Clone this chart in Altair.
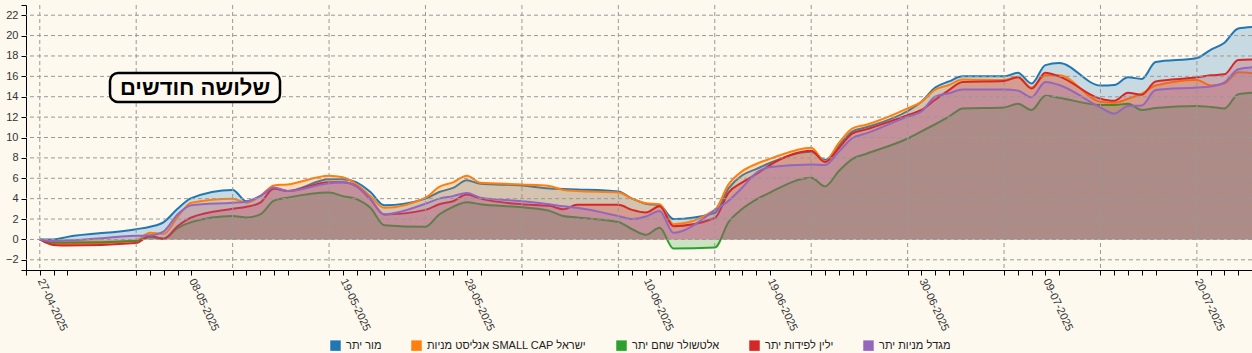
import json
import altair as alt
import pandas as pd

# ---------------- data ----------------
dates = [
    "2025-04-27", "2025-04-28", "2025-04-29", "2025-05-04", "2025-05-05", "2025-05-06",
    "2025-05-07", "2025-05-08", "2025-05-11", "2025-05-12", "2025-05-13", "2025-05-14",
    "2025-05-15", "2025-05-18", "2025-05-19", "2025-05-20", "2025-05-21", "2025-05-22",
    "2025-05-25", "2025-05-26", "2025-05-27", "2025-05-28", "2025-05-29", "2025-06-01",
    "2025-06-03", "2025-06-04", "2025-06-05", "2025-06-08", "2025-06-09", "2025-06-10",
    "2025-06-11", "2025-06-12", "2025-06-15", "2025-06-16", "2025-06-17", "2025-06-18",
    "2025-06-19", "2025-06-22", "2025-06-23", "2025-06-24", "2025-06-25", "2025-06-26",
    "2025-06-29", "2025-06-30", "2025-07-01", "2025-07-02", "2025-07-03", "2025-07-06",
    "2025-07-07", "2025-07-08", "2025-07-09", "2025-07-10", "2025-07-13", "2025-07-14",
    "2025-07-15", "2025-07-16", "2025-07-17", "2025-07-20", "2025-07-21", "2025-07-22",
    "2025-07-23", "2025-07-24",
]

series_names = [
    "מור יתר",
    "אנליסט מניות SMALL CAP ישראל",
    "אלטשולר שחם יתר",
    "ילין לפידות יתר",
    "מגדל מניות יתר",
]
series_colors = ["#1f77b4", "#ff7f0e", "#2ca02c", "#d62728", "#9467bd"]

mor = [0, 0.0, 0.25, 1.0, 1.25, 1.7, 3.0, 4.05,
       4.85, 3.75, 4.25, 5.0, 4.75, 5.9, 5.9, 5.6, 4.65, 3.35,
       4.0, 4.65, 5.05, 5.8, 5.45, 5.3, 5.0, 4.95, 4.9,
       4.7, 4.0, 3.5, 3.35, 2.0, 2.6, 5.0, 6.3, 6.9, 7.5,
       8.6, 7.8, 9.2, 10.6, 11.0, 12.6, 13.5, 14.9, 15.5, 16.0,
       16.0, 16.35, 15.3, 17.1, 17.3, 15.1, 15.15, 15.9, 15.75, 17.4,
       17.8, 18.6, 19.3, 20.7, 20.85]

analyst = [0, -0.4, -0.45, -0.1, 0.65, 0.55, 2.2, 3.6,
           4.0, 3.6, 4.25, 5.3, 5.4, 6.25, 6.1, 5.4, 4.25, 3.1,
           4.1, 5.15, 5.6, 6.25, 5.55, 5.4, 5.25, 4.85, 4.75,
           4.6, 4.0, 3.55, 3.45, 1.5, 2.9, 5.4, 6.7, 7.4, 7.9,
           9.0, 7.65, 9.45, 10.9, 11.25, 12.85, 13.5, 14.7, 15.15, 15.7,
           15.65, 15.95, 14.9, 16.1, 16.1, 13.5, 13.4, 13.8, 14.3, 15.1,
           15.65, 15.1, 15.3, 16.4, 16.3]

altshuler = [0, -0.3, -0.3, -0.15, 0.25, 0.1, 1.1, 1.7,
             2.3, 2.15, 2.45, 3.8, 4.1, 4.6, 4.25, 3.95, 3.1, 1.4,
             1.25, 2.45, 3.2, 3.65, 3.45, 3.15, 2.8, 2.3, 2.15,
             1.7, 1.0, 0.45, 1.15, -0.9, -0.8, 1.7, 3.0, 3.9, 4.6,
             6.05, 5.2, 6.7, 7.9, 8.4, 9.9, 10.6, 11.3, 12.05, 12.85,
             12.95, 13.3, 12.7, 14.1, 13.9, 13.2, 13.2, 13.3, 12.7, 12.9,
             13.1, 13.0, 12.85, 14.25, 14.4]

yelin = [0, -0.55, -0.6, -0.35, 0.35, 0.05, 1.3, 2.15,
         3.0, 3.2, 3.6, 5.0, 4.75, 5.6, 5.6, 5.2, 3.95, 2.45,
         2.9, 3.45, 3.75, 4.4, 4.0, 3.45, 3.3, 2.95, 3.4,
         3.4, 2.9, 2.65, 3.25, 1.3, 2.1, 4.6, 5.6, 6.4, 7.3,
         8.7, 7.6, 8.95, 10.4, 10.8, 12.2, 12.7, 13.7, 14.65, 15.45,
         15.55, 15.9, 14.8, 16.35, 16.0, 13.8, 13.6, 14.4, 14.2, 15.5,
         15.9, 16.1, 16.2, 17.6, 17.65]

migdal = [0, -0.15, -0.1, 0.35, 0.4, 0.8, 2.45, 3.35,
          3.6, 3.7, 4.25, 5.1, 4.75, 5.5, 5.6, 5.2, 4.0, 2.45,
          3.5, 4.0, 4.25, 4.55, 4.1, 3.75, 3.45, 3.25, 3.1,
          2.3, 2.0, 2.25, 2.8, 0.65, 2.85, 3.8, 5.1, 6.5, 7.1,
          7.35, 7.3, 8.6, 9.95, 10.4, 12.05, 12.55, 14.0, 14.35, 14.7,
          14.7, 14.6, 13.95, 15.45, 15.15, 12.95, 12.35, 13.1, 13.15, 14.65,
          14.9, 15.0, 15.4, 16.7, 16.9]

label_dates = ["27-04-2025", "08-05-2025", "19-05-2025", "28-05-2025", "10-06-2025",
               "19-06-2025", "30-06-2025", "09-07-2025", "20-07-2025"]
week_grid_dates = ["2025-04-27", "2025-05-04", "2025-05-11", "2025-05-18", "2025-05-25",
                   "2025-06-01", "2025-06-08", "2025-06-15", "2025-06-22", "2025-06-29",
                   "2025-07-06", "2025-07-13", "2025-07-20"]
y_tick_values = [-2, 0, 2, 4, 6, 8, 10, 12, 14, 16, 18, 20, 22]
title_text = "שלושה חודשים"

# ---------------- build ----------------
BG = "#fdf9ef"
FONT = "Liberation Sans"

rows = []
for name, vals in zip(series_names, [mor, analyst, altshuler, yelin, migdal]):
    for d, v in zip(dates, vals):
        rows.append({"date": d, "series": name, "value": v})
df = pd.DataFrame(rows)


def dt(s):
    y, m, d = (int(p) for p in s.split("-"))
    return alt.DateTime(year=y, month=m, date=d, utc=True)


x_domain = [dt("2025-04-26"), dt("2025-07-24")]
x_ticks = [dt("2025-04-26")] + [dt(d) for d in dates]

fmt = "utcFormat(datum.value, '%d-%m-%Y')"
label_expr = f"indexof({json.dumps(label_dates)}, {fmt}) >= 0 ? {fmt} : ''"

x_scale = alt.Scale(type="utc", domain=x_domain)
y_scale = alt.Scale(domain=[-3, 23], nice=False, zero=False)

x_axis = alt.Axis(
    values=x_ticks, labelExpr=label_expr, labelAngle=65, labelAlign="left",
    labelBaseline="middle", labelPadding=4, labelOverlap=False, labelFont=FONT,
    labelFontSize=11, labelColor="#333333", tickSize=5, tickColor="black",
    domainColor="black", grid=False, title=None, labelBound=False,
)
y_axis = alt.Axis(
    values=[-3] + y_tick_values + [23],
    labelExpr="datum.value == -3 || datum.value == 23 ? '' : datum.label",
    labelOverlap=False, labelFont=FONT, labelFontSize=11, labelColor="#333333",
    tickSize=5, tickColor="black", domainColor="black", grid=False, title=None,
    labelPadding=3,
)

x_enc = alt.X("date:T", scale=x_scale, axis=x_axis)
y_enc = alt.Y("value:Q", scale=y_scale, axis=y_axis)

color_scale = alt.Scale(domain=series_names, range=series_colors)
legend = alt.Legend(
    orient="none", legendX=304, legendY=335, direction="horizontal", title=None,
    symbolType="square", symbolSize=110, symbolOpacity=1, symbolStrokeWidth=0,
    labelFont=FONT, labelFontSize=11, labelColor="#222222", columnPadding=29,
    labelOffset=5, labelLimit=400,
)

base = alt.Chart(df)
layers = []
for i, name in enumerate(series_names):
    sub = base.transform_filter(alt.datum.series == name)
    layers.append(
        sub.mark_area(interpolate="monotone", opacity=0.24).encode(
            x=x_enc, y=y_enc,
            color=alt.Color("series:N", scale=color_scale, legend=legend),
        )
    )
    layers.append(
        sub.mark_line(interpolate="monotone", strokeWidth=2).encode(
            x=x_enc, y=y_enc,
            color=alt.Color("series:N", scale=color_scale, legend=None),
        )
    )

hgrid = alt.Chart(pd.DataFrame({"value": y_tick_values})).mark_rule(
    strokeDash=[4, 3], color="#999999", strokeWidth=1
).encode(y=y_enc)
vgrid = alt.Chart(pd.DataFrame({"date": week_grid_dates})).mark_rule(
    strokeDash=[4, 3], color="#999999", strokeWidth=1
).encode(x=x_enc)

title_df = pd.DataFrame({"t": [title_text]})
box = alt.Chart(title_df).mark_rect(
    fill=BG, stroke="black", strokeWidth=2.5, cornerRadius=8
).encode(x=alt.value(84), x2=alt.value(254), y=alt.value(68), y2=alt.value(97))
box_text = alt.Chart(title_df).mark_text(
    font=FONT, fontSize=22, fontWeight="bold", color="black", align="center", baseline="middle"
).encode(x=alt.value(169), y=alt.value(83), text="t:N")

chart = alt.layer(*layers, hgrid, vgrid, box, box_text).properties(
    width=1226, height=265,
    autosize=alt.AutoSizeParams(type="none"),
    padding={"left": 26, "top": 5, "right": 0, "bottom": 83},
    background=BG,
).configure_view(stroke=None)

chart.save("out.html", embed_options={"renderer": "svg", "actions": False})
